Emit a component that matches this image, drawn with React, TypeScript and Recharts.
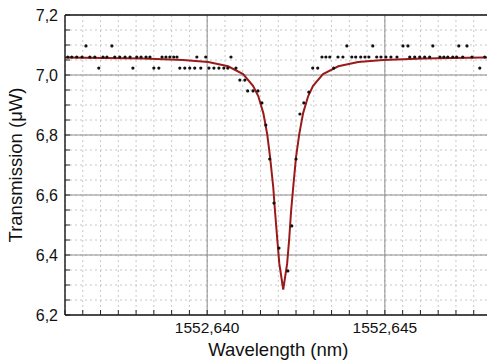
import {
    ComposedChart,
    Line,
    Scatter,
    XAxis,
    YAxis,
    CartesianGrid,
    ReferenceLine
} from 'recharts';

// measured points (wavelength in nm, transmission in µW)
const pointWavelength = [
    1552.63608, 1552.63619, 1552.63633, 1552.63648, 1552.63659, 1552.6367, 1552.63684, 1552.63695,
    1552.63707, 1552.63718, 1552.63732, 1552.6374, 1552.63754, 1552.63769, 1552.63783, 1552.63791,
    1552.63802, 1552.63814, 1552.63828, 1552.63839, 1552.6385, 1552.63864, 1552.63873, 1552.63884,
    1552.63895, 1552.63906, 1552.63915, 1552.63923, 1552.63937, 1552.63951, 1552.63965, 1552.63971,
    1552.63982, 1552.63996, 1552.64005, 1552.64019, 1552.64033, 1552.64047, 1552.64058, 1552.64067,
    1552.64081, 1552.64092, 1552.64106, 1552.64114, 1552.64129, 1552.64143, 1552.64154, 1552.64165,
    1552.64176, 1552.64188, 1552.64202, 1552.64227, 1552.64238, 1552.6425, 1552.64261, 1552.64272,
    1552.64286, 1552.64297, 1552.64311, 1552.64323, 1552.64334, 1552.64345, 1552.64356, 1552.64368,
    1552.64382, 1552.64393, 1552.64407, 1552.64418, 1552.64432, 1552.64444, 1552.64455, 1552.64466,
    1552.64477, 1552.64489, 1552.64503, 1552.64517, 1552.64534, 1552.64551, 1552.64565, 1552.6457,
    1552.64584, 1552.64598, 1552.64612, 1552.64626, 1552.64635, 1552.64655, 1552.64666, 1552.64677,
    1552.64691, 1552.64702, 1552.64708, 1552.64719, 1552.64731, 1552.64745, 1552.64767, 1552.64781
];
const pointTransmission = [
    7.06, 7.06, 7.06, 7.06, 7.097, 7.06, 7.06, 7.023,
    7.06, 7.06, 7.097, 7.06, 7.06, 7.06, 7.06, 7.023,
    7.06, 7.06, 7.06, 7.06, 7.023, 7.023, 7.06, 7.06,
    7.06, 7.06, 7.06, 7.023, 7.023, 7.023, 7.023, 7.06,
    7.023, 7.06, 7.023, 7.023, 7.023, 7.023, 7.023, 7.06,
    7.023, 6.983, 6.983, 6.947, 6.947, 6.947, 6.907, 6.833,
    6.72, 6.573, 6.423, 6.347, 6.497, 6.72, 6.87, 6.907,
    6.943, 7.023, 7.023, 7.06, 7.06, 7.06, 7.023, 7.06,
    7.06, 7.097, 7.06, 7.06, 7.06, 7.06, 7.06, 7.097,
    7.06, 7.06, 7.06, 7.06, 7.06, 7.097, 7.097, 7.06,
    7.06, 7.06, 7.06, 7.06, 7.097, 7.06, 7.06, 7.06,
    7.06, 7.06, 7.097, 7.06, 7.097, 7.06, 7.023, 7.06
];

// fitted curve
const fitWavelength = [
    1552.636, 1552.6382, 1552.63932, 1552.64003, 1552.64059, 1552.64101, 1552.64129, 1552.64144,
    1552.64158, 1552.64169, 1552.64177, 1552.64186, 1552.64191, 1552.64197, 1552.64203, 1552.64214,
    1552.64225, 1552.64231, 1552.64236, 1552.64242, 1552.6425, 1552.64259, 1552.6427, 1552.64284,
    1552.64298, 1552.64326, 1552.64369, 1552.64425, 1552.64495, 1552.64608, 1552.64776, 1552.648
];
const fitTransmission = [
    7.058, 7.055, 7.05, 7.043, 7.029, 7.003, 6.964, 6.929,
    6.873, 6.802, 6.726, 6.625, 6.544, 6.456, 6.371, 6.285,
    6.371, 6.456, 6.544, 6.625, 6.726, 6.802, 6.873, 6.929,
    6.964, 7.003, 7.029, 7.043, 7.05, 7.055, 7.058, 7.058
];

const xMajor = [1552.64, 1552.645];
const xMinor = [
    1552.636, 1552.6365, 1552.637, 1552.6375, 1552.638, 1552.6385, 1552.639, 1552.6395,
    1552.64, 1552.6405, 1552.641, 1552.6415, 1552.642, 1552.6425, 1552.643, 1552.6435,
    1552.644, 1552.6445, 1552.645, 1552.6455, 1552.646, 1552.6465, 1552.647, 1552.6475, 1552.648
];
const yMajor = [6.2, 6.4, 6.6, 6.8, 7.0, 7.2];
const yMinor = [
    6.2, 6.25, 6.3, 6.35, 6.4, 6.45, 6.5, 6.55, 6.6, 6.65, 6.7,
    6.75, 6.8, 6.85, 6.9, 6.95, 7.0, 7.05, 7.1, 7.15, 7.2
];

const points = pointWavelength.map((x, i) => ({ x, y: pointTransmission[i] }));
const fit = fitWavelength.map((x, i) => ({ x, y: fitTransmission[i] }));

const FONT = '"Liberation Sans", Arial, sans-serif';
const isIn = (list: number[], v: number) => list.some((m) => Math.abs(m - v) < 1e-7);

function XTick(props: any) {
    const { x, y, payload } = props;
    if (!isIn(xMajor, payload.value)) return <g />;
    return (
        <text x={x} y={y} dy="0.71em" textAnchor="middle" fontSize={15.5} fontFamily={FONT} fill="#111">
            {payload.value.toFixed(3).replace('.', ',')}
        </text>
    );
}

function YTick(props: any) {
    const { x, y, payload } = props;
    if (!isIn(yMajor, payload.value)) return <g />;
    return (
        <text x={x} y={y} dy="0.355em" textAnchor="end" fontSize={16} fontFamily={FONT} fill="#111">
            {payload.value.toFixed(1).replace('.', ',')}
        </text>
    );
}

export default function App() {
    return (
        <div style={{ position: 'absolute', left: 0, top: 0, width: 487, height: 364, overflow: 'hidden', background: '#fff' }}>
            <ComposedChart width={500} height={364} margin={{ top: 15, right: 8.5, left: 0, bottom: 0 }}>
                <CartesianGrid
                    horizontalValues={yMinor}
                    verticalValues={xMinor}
                    stroke="#c8c8c8"
                    strokeDasharray="2 3"
                />
                <CartesianGrid horizontalValues={yMajor} verticalValues={xMajor} stroke="#8c8c8c" />
                <XAxis
                    type="number"
                    dataKey="x"
                    domain={[1552.636, 1552.648]}
                    ticks={xMinor}
                    interval={0}
                    allowDataOverflow
                    height={49}
                    tickSize={-5}
                    tickMargin={12}
                    tick={XTick}
                    axisLine={{ stroke: '#222', strokeWidth: 1.5 }}
                    tickLine={{ stroke: '#222' }}
                    label={({ viewBox }: any) => (
                        <text
                            x={viewBox.x + viewBox.width / 2}
                            y={viewBox.y + 41}
                            textAnchor="middle"
                            fontSize={18.5}
                            fontFamily={FONT}
                            fill="#111"
                        >
                            Wavelength (nm)
                        </text>
                    )}
                />
                <YAxis
                    type="number"
                    dataKey="y"
                    domain={[6.2, 7.2]}
                    ticks={yMinor}
                    interval={0}
                    allowDataOverflow
                    width={65}
                    tickSize={-5}
                    tickMargin={12}
                    tick={YTick}
                    axisLine={{ stroke: '#222', strokeWidth: 1.5 }}
                    tickLine={{ stroke: '#222' }}
                    label={({ viewBox }: any) => {
                        const cx = viewBox.x + 15;
                        const cy = viewBox.y + viewBox.height / 2;
                        return (
                            <text
                                x={cx}
                                y={cy}
                                dy="0.355em"
                                transform={`rotate(-90 ${cx} ${cy})`}
                                textAnchor="middle"
                                fontSize={18.5}
                                fontFamily={FONT}
                                fill="#111"
                            >
                                Transmission (μW)
                            </text>
                        );
                    }}
                />
                <ReferenceLine y={7.2} stroke="#222" strokeWidth={1.5} ifOverflow="visible" />
                <ReferenceLine x={1552.648} stroke="#222" strokeWidth={1.5} ifOverflow="visible" />
                <Scatter
                    data={points}
                    dataKey="y"
                    isAnimationActive={false}
                    shape={(p: any) => <circle cx={p.cx} cy={p.cy} r={1.6} fill="#111" />}
                />
                <Line
                    data={fit}
                    dataKey="y"
                    type="linear"
                    stroke="#9a1a1a"
                    strokeWidth={2}
                    dot={false}
                    activeDot={false}
                    isAnimationActive={false}
                />
            </ComposedChart>
        </div>
    );
}
